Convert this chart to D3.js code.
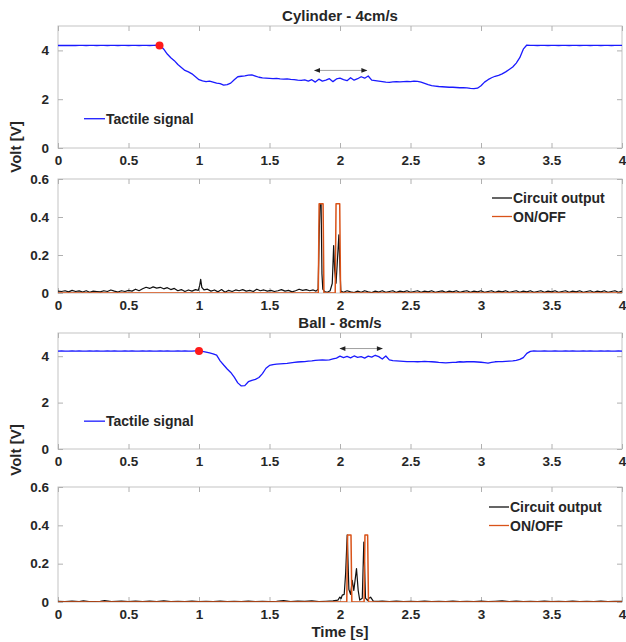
<!DOCTYPE html>
<html>
<head>
<meta charset="utf-8">
<script src="https://cdn.jsdelivr.net/npm/d3@7"></script>
<style>
  html, body { margin: 0; padding: 0; background: #fff; }
  svg text { font-family: "Liberation Sans", Arial, Helvetica, sans-serif; font-weight: bold; fill: #262626; }
</style>
</head>
<body>
<svg id="chart" width="626" height="642"></svg>
<script>
// ---------------- DATA ----------------
const timeTicks = [0, 0.5, 1, 1.5, 2, 2.5, 3, 3.5, 4];
const tactileTicks = [0, 2, 4];
const outputTicks = [0, 0.2, 0.4, 0.6];
const titles = ["Cylinder - 4cm/s", "Ball - 8cm/s"];
const sampleStep = 0.025; // tactile signal sampling (s)

// Cylinder tactile signal, sampled every 0.025 s from 0 to 4 s
const cylinderTactile = [
 4.20,4.21,4.20,4.21,4.20,4.20,4.21,4.21,4.20,4.21,
 4.21,4.20,4.21,4.21,4.20,4.21,4.21,4.20,4.21,4.21,
 4.20,4.21,4.21,4.20,4.21,4.21,4.20,4.21,4.22,4.20,
 4.05,3.85,3.70,3.58,3.42,3.30,3.18,3.12,3.04,2.92,
 2.80,2.75,2.72,2.74,2.70,2.66,2.64,2.58,2.60,2.66,
 2.80,2.92,2.94,2.96,2.99,3.00,2.95,2.90,2.87,2.86,
 2.85,2.84,2.85,2.83,2.82,2.83,2.81,2.80,2.78,2.77,
 2.79,2.74,2.80,2.70,2.82,2.74,2.78,2.84,2.72,2.83,
 2.86,2.80,2.76,2.88,2.78,2.84,2.92,2.86,2.95,2.78,
 2.76,2.74,2.72,2.70,2.69,2.71,2.72,2.71,2.72,2.73,
 2.72,2.74,2.73,2.70,2.65,2.60,2.56,2.54,2.52,2.51,
 2.50,2.49,2.49,2.48,2.47,2.47,2.46,2.44,2.43,2.45,
 2.55,2.70,2.80,2.88,2.94,2.98,3.04,3.12,3.22,3.32,
 3.48,3.70,4.05,4.22,4.21,4.21,4.20,4.21,4.21,4.20,
 4.21,4.21,4.20,4.21,4.21,4.20,4.21,4.21,4.20,4.21,
 4.21,4.20,4.21,4.21,4.20,4.21,4.21,4.20,4.21,4.21,
 4.21
];

// Ball tactile signal, sampled every 0.025 s from 0 to 4 s
const ballTactile = [
 4.22,4.23,4.22,4.22,4.23,4.22,4.23,4.22,4.22,4.23,
 4.22,4.23,4.22,4.22,4.23,4.22,4.23,4.22,4.22,4.23,
 4.22,4.23,4.22,4.22,4.23,4.22,4.23,4.22,4.22,4.23,
 4.22,4.23,4.22,4.22,4.23,4.22,4.23,4.22,4.22,4.23,
 4.24,4.21,4.18,4.14,4.10,4.05,3.80,3.62,3.45,3.30,
 3.10,2.85,2.72,2.73,2.90,2.96,3.00,3.08,3.25,3.48,
 3.60,3.64,3.66,3.67,3.68,3.69,3.71,3.73,3.75,3.76,
 3.77,3.79,3.80,3.82,3.83,3.84,3.83,3.84,3.88,3.92,
 4.00,3.94,3.99,3.93,4.01,3.95,3.98,3.92,4.00,3.96,
 4.04,3.98,3.88,4.01,3.84,3.81,3.80,3.79,3.78,3.77,
 3.77,3.77,3.76,3.77,3.78,3.77,3.76,3.75,3.73,3.72,
 3.71,3.72,3.73,3.74,3.76,3.75,3.76,3.77,3.76,3.75,
 3.74,3.72,3.70,3.73,3.76,3.77,3.77,3.78,3.79,3.80,
 3.82,3.86,3.94,4.12,4.21,4.23,4.22,4.22,4.23,4.22,
 4.22,4.23,4.22,4.22,4.23,4.22,4.23,4.22,4.22,4.23,
 4.22,4.23,4.22,4.22,4.23,4.22,4.23,4.22,4.22,4.23,
 4.22
];

// Circuit output [time s, volt]
const cylinderOutput = [
 [0,0.010],[0.025,0.008],[0.05,0.012],[0.075,0.006],[0.1,0.014],[0.125,0.008],[0.15,0.011],[0.175,0.005],
 [0.2,0.012],[0.225,0.004],[0.25,0.010],[0.275,0.008],[0.3,0.006],[0.325,0.012],[0.35,0.008],[0.375,0.016],
 [0.4,0.010],[0.425,0.005],[0.45,0.012],[0.475,0.008],[0.5,0.014],[0.525,0.010],[0.55,0.020],[0.575,0.012],
 [0.6,0.022],[0.625,0.030],[0.65,0.024],[0.675,0.032],[0.7,0.026],[0.725,0.030],[0.75,0.022],[0.775,0.028],
 [0.8,0.018],[0.825,0.024],[0.85,0.012],[0.875,0.018],[0.9,0.008],[0.925,0.016],[0.95,0.010],[0.975,0.018],
 [0.995,0.014],[1.005,0.040],[1.012,0.072],[1.02,0.030],[1.035,0.016],[1.06,0.020],[1.085,0.010],[1.11,0.016],
 [1.135,0.006],[1.16,0.018],[1.185,0.004],[1.21,0.014],[1.235,0.008],[1.26,0.016],[1.285,0.012],[1.31,0.018],
 [1.335,0.010],[1.36,0.014],[1.385,0.008],[1.41,0.020],[1.435,0.012],[1.46,0.016],[1.485,0.010],[1.51,0.014],
 [1.535,0.008],[1.56,0.012],[1.585,0.018],[1.61,0.010],[1.635,0.014],[1.66,0.006],[1.685,0.012],[1.71,0.020],
 [1.735,0.014],[1.76,0.018],[1.785,0.012],[1.81,0.016],[1.83,0.010],[1.845,0.020],[1.852,0.300],[1.858,0.470],
 [1.866,0.470],[1.872,0.100],[1.878,0.020],[1.89,0.008],[1.91,0.004],[1.93,0.012],[1.945,0.050],[1.955,0.250],
 [1.962,0.120],[1.972,0.052],[1.98,0.150],[1.992,0.306],[2.0,0.120],[2.006,0.010],[2.025,0.004],[2.05,0.012],
 [2.075,0.006],[2.1,0.002],[2.125,0.010],[2.15,0.004],[2.175,0.012],[2.2,0.006],[2.225,0.002],[2.25,0.010],
 [2.275,0.005],[2.3,0.012],[2.325,0.004],[2.35,0.008],[2.375,0.012],[2.4,0.003],[2.425,0.010],[2.45,0.006],
 [2.475,0.012],[2.5,0.004],[2.525,0.008],[2.55,0.012],[2.575,0.004],[2.6,0.010],[2.625,0.006],[2.65,0.012],
 [2.675,0.004],[2.7,0.008],[2.725,0.011],[2.75,0.004],[2.775,0.010],[2.8,0.006],[2.825,0.012],[2.85,0.004],
 [2.875,0.009],[2.9,0.012],[2.925,0.004],[2.95,0.010],[2.975,0.006],[3.0,0.012],[3.025,0.004],[3.05,0.008],
 [3.075,0.012],[3.1,0.004],[3.125,0.010],[3.15,0.006],[3.175,0.012],[3.2,0.004],[3.225,0.008],[3.25,0.012],
 [3.275,0.004],[3.3,0.010],[3.325,0.006],[3.35,0.012],[3.375,0.004],[3.4,0.008],[3.425,0.012],[3.45,0.004],
 [3.475,0.010],[3.5,0.006],[3.525,0.012],[3.55,0.004],[3.575,0.008],[3.6,0.012],[3.625,0.004],[3.65,0.010],
 [3.675,0.006],[3.7,0.012],[3.725,0.004],[3.75,0.008],[3.775,0.012],[3.8,0.004],[3.825,0.010],[3.85,0.006],
 [3.875,0.012],[3.9,0.004],[3.925,0.008],[3.95,0.012],[3.975,0.004],[4.0,0.010]
];

const ballOutput = [
 [0,0.004],[0.05,0.002],[0.1,0.005],[0.15,0.002],[0.18,0.006],[0.22,0.002],[0.3,0.004],[0.33,0.007],[0.38,0.002],
 [0.45,0.005],[0.5,0.002],[0.55,0.005],[0.6,0.002],[0.65,0.005],[0.7,0.002],[0.75,0.006],[0.8,0.002],[0.85,0.004],
 [0.9,0.002],[0.95,0.005],[1.0,0.002],[1.05,0.004],[1.1,0.002],[1.15,0.005],[1.2,0.002],[1.25,0.004],[1.3,0.002],
 [1.35,0.005],[1.4,0.002],[1.45,0.004],[1.5,0.002],[1.55,0.004],[1.6,0.007],[1.65,0.002],[1.7,0.005],[1.75,0.003],
 [1.8,0.006],[1.85,0.002],[1.9,0.004],[1.95,0.006],[1.985,0.010],[1.999,0.026],[2.008,0.018],[2.016,0.036],
 [2.03,0.040],[2.04,0.150],[2.051,0.350],[2.063,0.065],[2.075,0.040],[2.087,0.113],[2.098,0.060],[2.117,0.174],
 [2.129,0.060],[2.14,0.010],[2.158,0.020],[2.169,0.313],[2.181,0.020],[2.195,0.008],[2.205,0.020],[2.217,0.025],
 [2.236,0.005],[2.27,0.003],[2.3,0.005],[2.35,0.002],[2.4,0.005],[2.45,0.002],[2.5,0.004],[2.55,0.002],
 [2.6,0.005],[2.65,0.002],[2.7,0.004],[2.75,0.002],[2.8,0.005],[2.85,0.002],[2.9,0.004],[2.95,0.002],
 [3.0,0.005],[3.05,0.002],[3.1,0.004],[3.15,0.006],[3.2,0.002],[3.25,0.005],[3.3,0.002],[3.35,0.004],
 [3.4,0.002],[3.45,0.005],[3.5,0.002],[3.55,0.004],[3.6,0.002],[3.65,0.005],[3.7,0.002],[3.75,0.004],
 [3.8,0.002],[3.85,0.005],[3.9,0.002],[3.95,0.004],[4.0,0.003]
];

// ON/OFF switching signal [time s, volt]
const cylinderOnOff = [[0,0],[1.846,0],[1.852,0.47],[1.880,0.47],[1.886,0],[1.966,0],[1.972,0.47],[1.998,0.47],[2.004,0],[4,0]];
const ballOnOff = [[0,0],[2.048,0],[2.054,0.35],[2.078,0.35],[2.084,0],[2.171,0],[2.177,0.35],[2.196,0.35],[2.202,0],[4,0]];

// Contact onset markers [time s, volt] and sliding interval [t0, t1, volt]
const contactPoints = [[0.72, 4.2], [1.0, 4.22]];
const slideIntervals = [[1.82, 2.19, 3.18], [2.0, 2.30, 4.33]];

// ---------------- DRAW ----------------
const svg = d3.select("#chart");
const X0 = 58, X1 = 622;
const panels = [
  { top: 26,  bottom: 148, ymax: 5,   ticks: tactileTicks },
  { top: 179, bottom: 293, ymax: 0.6, ticks: outputTicks },
  { top: 333, bottom: 449, ymax: 5,   ticks: tactileTicks },
  { top: 487, bottom: 602, ymax: 0.6, ticks: outputTicks }
];
const x = d3.scaleLinear().domain([0, 4]).range([X0, X1]);
const blue = "#1a1aff", orange = "#d95319";

svg.append("defs").selectAll("clipPath").data(panels).join("clipPath")
  .attr("id", (d, i) => "clip" + i)
  .append("rect").attr("x", X0).attr("y", d => d.top).attr("width", X1 - X0).attr("height", d => d.bottom - d.top);

const marker = svg.select("defs").append("marker")
  .attr("id", "ah").attr("viewBox", "0 0 10 10").attr("refX", 9).attr("refY", 5)
  .attr("markerWidth", 7).attr("markerHeight", 6).attr("orient", "auto-start-reverse")
  .attr("markerUnits", "userSpaceOnUse");
marker.append("path").attr("d", "M0,1 L10,5 L0,9 Z").attr("fill", "#222");

panels.forEach((p, i) => {
  p.y = d3.scaleLinear().domain([0, p.ymax]).range([p.bottom, p.top]);
  const g = svg.append("g");
  g.append("rect").attr("x", X0).attr("y", p.top).attr("width", X1 - X0).attr("height", p.bottom - p.top)
    .attr("fill", "none").attr("stroke", "#c4c4c4").attr("stroke-width", 1);
  const xb = d3.axisBottom(x).tickValues(timeTicks).tickSize(-5).tickPadding(7).tickFormat(d3.format("~g"));
  const gxb = g.append("g").attr("transform", `translate(0,${p.bottom})`).call(xb);
  const gxt = g.append("g").attr("transform", `translate(0,${p.top})`)
    .call(d3.axisTop(x).tickValues(timeTicks).tickSize(-5).tickFormat(""));
  const yl = d3.axisLeft(p.y).tickValues(p.ticks).tickSize(-5).tickPadding(9).tickFormat(d3.format("~g"));
  const gyl = g.append("g").attr("transform", `translate(${X0},0)`).call(yl);
  const gyr = g.append("g").attr("transform", `translate(${X1},0)`)
    .call(d3.axisRight(p.y).tickValues(p.ticks).tickSize(-5).tickFormat(""));
  [gxb, gxt, gyl, gyr].forEach(a => {
    a.select(".domain").remove();
    a.selectAll(".tick line").attr("stroke", "#b0b0b0");
    a.selectAll(".tick text").attr("font-size", 13.5).attr("fill", "#262626")
      .style("font-family", '"Liberation Sans", Arial, sans-serif').style("font-weight", "bold");
  });
  p.g = g.append("g").attr("clip-path", `url(#clip${i})`);
});

const tactileLine = yScale => d3.line().x((d, i) => x(i * sampleStep)).y(d => yScale(d));
const pairLine = yScale => d3.line().x(d => x(d[0])).y(d => yScale(d[1]));

[[0, cylinderTactile, 0], [2, ballTactile, 1]].forEach(([pi, data, k]) => {
  const p = panels[pi];
  p.g.append("path").datum(data).attr("d", tactileLine(p.y)).attr("fill", "none")
    .attr("stroke", blue).attr("stroke-width", 1.3).attr("stroke-linejoin", "round");
  const [t0, t1, v] = slideIntervals[k];
  svg.append("line").attr("x1", x(t0)).attr("x2", x(t1)).attr("y1", p.y(v)).attr("y2", p.y(v))
    .attr("stroke", "#888").attr("stroke-width", 0.8)
    .attr("marker-start", "url(#ah)").attr("marker-end", "url(#ah)");
  svg.append("circle").attr("cx", x(contactPoints[k][0])).attr("cy", p.y(contactPoints[k][1]))
    .attr("r", 4).attr("fill", "#ff1a1a");
  svg.append("text").attr("x", (X0 + X1) / 2).attr("y", p.top - 5).attr("text-anchor", "middle")
    .attr("font-size", 15).text(titles[k]);
  svg.append("line").attr("x1", 84).attr("x2", 105).attr("y1", p.y(1.2)).attr("y2", p.y(1.2))
    .attr("stroke", blue).attr("stroke-width", 1.3);
  svg.append("text").attr("x", 106).attr("y", p.y(1.2) + 5).attr("font-size", 14).text("Tactile signal");
});

[[1, cylinderOutput, cylinderOnOff, 492, 198], [3, ballOutput, ballOnOff, 489, 507]].forEach(([pi, out, onoff, lx, ly]) => {
  const p = panels[pi];
  p.g.append("path").datum(out).attr("d", pairLine(p.y)).attr("fill", "none")
    .attr("stroke", "#111").attr("stroke-width", 1.2).attr("stroke-linejoin", "round");
  p.g.append("path").datum(onoff).attr("d", pairLine(p.y)).attr("fill", "none")
    .attr("stroke", orange).attr("stroke-width", 1.5).attr("stroke-linejoin", "round");
  const items = [["Circuit output", "#111"], ["ON/OFF", orange]];
  items.forEach(([label, c], j) => {
    const yy = ly + j * 18.5;
    svg.append("line").attr("x1", lx).attr("x2", lx + 20).attr("y1", yy).attr("y2", yy)
      .attr("stroke", c).attr("stroke-width", 1.3);
    svg.append("text").attr("x", lx + 21).attr("y", yy + 5).attr("font-size", 14).text(label);
  });
});

[[147], [450]].forEach(([cy]) => {
  svg.append("text").attr("transform", `translate(21,${cy}) rotate(-90)`).attr("text-anchor", "middle")
    .attr("font-size", 15).text("Volt [V]");
});
svg.append("text").attr("x", (X0 + X1) / 2).attr("y", 637).attr("text-anchor", "middle")
  .attr("font-size", 15).text("Time [s]");
</script>
</body>
</html>
